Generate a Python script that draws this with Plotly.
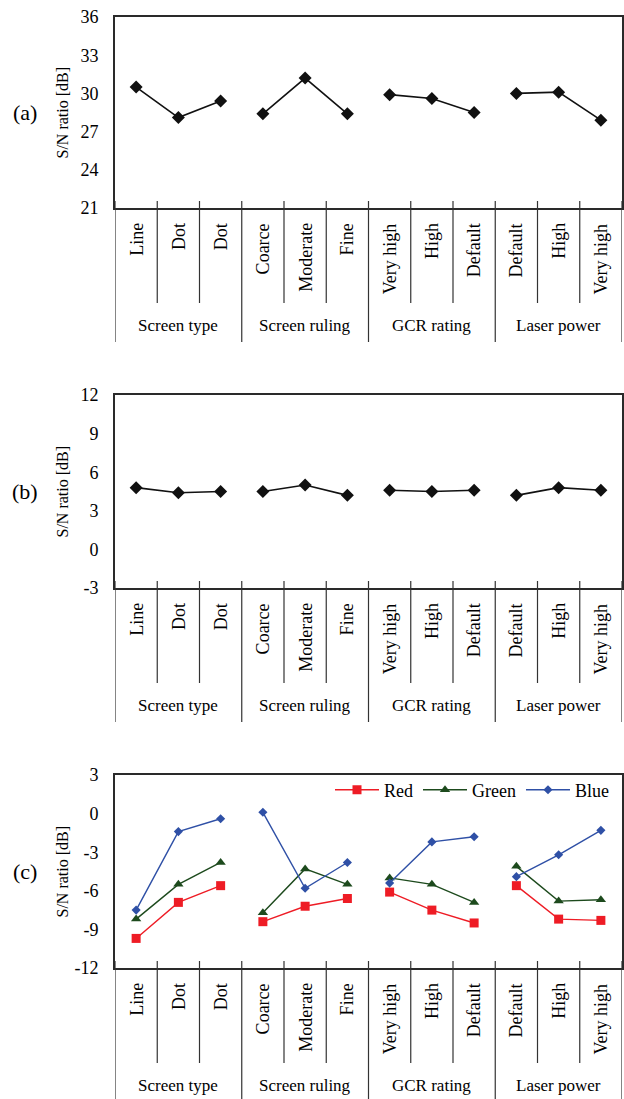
import plotly.graph_objects as go

W, H = 624, 1099

categories = ["Line", "Dot", "Dot", "Coarce", "Moderate", "Fine",
              "Very high", "High", "Default", "Default", "High", "Very high"]
groups = ["Screen type", "Screen ruling", "GCR rating", "Laser power"]

sn_a = [30.5, 28.1, 29.4, 28.4, 31.2, 28.4, 29.9, 29.6, 28.5, 30.0, 30.1, 27.9]
sn_b = [4.8, 4.4, 4.5, 4.5, 5.0, 4.2, 4.6, 4.5, 4.6, 4.2, 4.8, 4.6]
sn_red = [-9.7, -6.9, -5.6, -8.4, -7.2, -6.6, -6.1, -7.5, -8.5, -5.6, -8.2, -8.3]
sn_green = [-8.2, -5.5, -3.8, -7.7, -4.3, -5.5, -5.0, -5.5, -6.9, -4.1, -6.8, -6.7]
sn_blue = [-7.5, -1.4, -0.4, 0.1, -5.8, -3.8, -5.4, -2.2, -1.8, -4.9, -3.2, -1.3]

ticks_a = [21, 24, 27, 30, 33, 36]
ticks_b = [-3, 0, 3, 6, 9, 12]
ticks_c = [-12, -9, -6, -3, 0, 3]
tick_sets = [ticks_a, ticks_b, ticks_c]
panel_labels = ["(a)", "(b)", "(c)"]

FONT = "Liberation Serif, Times New Roman, Times, serif"
PX_L, PX_R = 115, 622
panels_px = [(17, 208), (395, 588), (775, 968)]


def py(p):
    return 1 - p / H


def px(p):
    return p / W


def gapped(vals):
    xs, ys = [], []
    for g in range(4):
        for i in range(3):
            xs.append(g * 3 + i)
            ys.append(vals[g * 3 + i])
        xs.append(None)
        ys.append(None)
    return xs, ys


fig = go.Figure()

for idx, vals in enumerate([sn_a, sn_b]):
    xs, ys = gapped(vals)
    fig.add_trace(go.Scatter(
        x=xs, y=ys, mode="lines+markers",
        line=dict(color="#111111", width=1.6),
        marker=dict(symbol="diamond", size=10, color="#111111"),
        showlegend=False,
        xaxis="x" if idx == 0 else "x2",
        yaxis="y" if idx == 0 else "y2",
    ))

series_c = [
    ("Red", sn_red, "#EE1C25", "square", 9),
    ("Green", sn_green, "#1D4A1D", "triangle-up", 9),
    ("Blue", sn_blue, "#2F50A6", "diamond", 7),
]
for name, vals, col, sym, sz in series_c:
    xs, ys = gapped(vals)
    fig.add_trace(go.Scatter(
        x=xs, y=ys, mode="lines+markers", name=name,
        line=dict(color=col, width=1.4),
        marker=dict(symbol=sym, size=sz, color=col),
        xaxis="x3", yaxis="y3",
    ))

layout = dict(
    width=W, height=H,
    margin=dict(l=0, r=0, t=0, b=0, pad=0, autoexpand=False),
    paper_bgcolor="white", plot_bgcolor="white",
    font=dict(family=FONT, size=17, color="black"),
    showlegend=True,
    legend=dict(
        orientation="h", x=px(614), xanchor="right", y=py(790), yanchor="middle",
        font=dict(family=FONT, size=18, color="black"),
        bgcolor="rgba(0,0,0,0)", itemwidth=44, tracegroupgap=0,
    ),
)

shapes = []
annotations = []
for k, ((top, bot), tv) in enumerate(zip(panels_px, tick_sets)):
    suffix = "" if k == 0 else str(k + 1)
    layout["xaxis" + suffix] = dict(
        domain=[px(PX_L), px(PX_R)], range=[-0.5, 11.5],
        showticklabels=False, ticks="", showgrid=False, zeroline=False,
        showline=True, linecolor="#2a2a2a", linewidth=1.6, mirror=True,
        anchor="y" + suffix, automargin=False,
    )
    layout["yaxis" + suffix] = dict(
        domain=[py(bot), py(top)], range=[min(tv), max(tv)],
        tickvals=tv, ticktext=[str(v) for v in tv],
        showgrid=False, zeroline=False,
        showline=True, linecolor="#2a2a2a", linewidth=1.6, mirror=True,
        ticks="outside", ticklen=11, tickcolor="rgba(0,0,0,0)",
        tickfont=dict(family=FONT, size=18, color="black"),
        anchor="x" + suffix, automargin=False,
    )
    xref = "x" + suffix
    for j in range(13):
        xpos = j - 0.5
        long_line = (j % 3 == 0)
        end = bot + (134 if long_line else 95)
        end = min(end, H)
        shapes.append(dict(
            type="line", xref=xref, yref="paper",
            x0=xpos, x1=xpos, y0=py(bot - 7), y1=py(end),
            line=dict(color="#333333", width=1.2),
        ))
    for i, c in enumerate(categories):
        annotations.append(dict(
            x=i, y=py(bot + 13), xref=xref, yref="paper",
            text=c, textangle=-90, showarrow=False,
            xanchor="center", yanchor="top",
            font=dict(family=FONT, size=18, color="black"),
        ))
    for g, gname in enumerate(groups):
        annotations.append(dict(
            x=g * 3 + 1, y=py(bot + 117), xref=xref, yref="paper",
            text=gname, showarrow=False, xanchor="center", yanchor="middle",
            font=dict(family=FONT, size=17, color="black"),
        ))
    annotations.append(dict(
        x=px(62), y=py((top + bot) / 2), xref="paper", yref="paper",
        text="S/N ratio [dB]", textangle=-90, showarrow=False,
        xanchor="center", yanchor="middle",
        font=dict(family=FONT, size=16, color="black"),
    ))
    annotations.append(dict(
        x=px(25), y=py((top + bot) / 2), xref="paper", yref="paper",
        text=panel_labels[k], showarrow=False,
        xanchor="center", yanchor="middle",
        font=dict(family=FONT, size=22, color="black"),
    ))

layout["shapes"] = shapes
layout["annotations"] = annotations
fig.update_layout(**layout)
fig.write_html(
    "out.html",
    config={"displayModeBar": False},
    post_script="document.body.style.margin='0';document.body.style.padding='0';",
)
